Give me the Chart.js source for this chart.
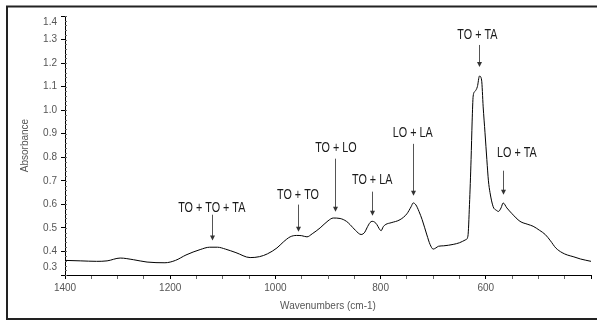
<!DOCTYPE html>
<html>
<head>
<meta charset="utf-8">
<script src="https://cdn.jsdelivr.net/npm/chart.js@4"></script>
<style>
  body { margin: 0; background: #fff; }
  canvas { display: block; }
</style>
</head>
<body>
<canvas id="spectrum" width="597" height="320"></canvas>
<script>
// spectrum (wavenumber cm-1 -> absorbance)
var wavenumbers = [1400, 1370, 1340, 1320, 1295, 1270, 1244, 1210, 1190, 1170, 1143, 1125, 1110, 1095, 1075, 1048, 1030, 1015,
    997, 985, 972, 960, 950, 940, 930, 915, 900, 890, 877, 865, 858, 848, 837, 830, 826, 820, 816, 811, 807, 803, 799, 795,
    790, 780, 763, 750, 742, 738, 733, 727, 721, 712, 706, 700, 695, 690, 680, 662, 650, 638, 634, 631, 628, 626, 624, 620.5,
    616, 612, 608, 605, 601.5, 598, 595, 592, 586, 580, 576, 571, 567, 560, 550, 535, 520, 510, 498, 487, 477, 467, 455, 445,
    434, 420, 400];
var absorbance = [0.362, 0.36, 0.358, 0.36, 0.372, 0.365, 0.355, 0.352, 0.362, 0.385, 0.408, 0.418, 0.418, 0.41, 0.395, 0.374, 0.378, 0.39,
    0.415, 0.44, 0.462, 0.468, 0.467, 0.462, 0.475, 0.50, 0.53, 0.542, 0.54, 0.528, 0.514, 0.49, 0.472, 0.482, 0.50, 0.523, 0.528, 0.524, 0.514, 0.498, 0.488, 0.505,
    0.515, 0.522, 0.535, 0.56, 0.59, 0.606, 0.598, 0.57, 0.535, 0.47, 0.43, 0.41, 0.415, 0.422, 0.424, 0.43, 0.437, 0.45, 0.465, 0.6, 0.79, 0.95, 1.06, 1.08,
    1.10, 1.145, 1.128, 1.014, 0.904, 0.79, 0.70, 0.65, 0.59, 0.575, 0.57, 0.585, 0.606, 0.585, 0.56, 0.528, 0.515, 0.507, 0.49, 0.472, 0.445, 0.415, 0.395, 0.385,
    0.378, 0.368, 0.358];

// peak assignments
var peakLabels = ['TO + TO + TA', 'TO + TO', 'TO + LO', 'TO + LA', 'LO + LA', 'TO + TA', 'LO + TA'];
var peakWavenumbers = [1120, 957, 887, 816, 738, 612, 567];

// where the labels and arrows sit, in data units
var labelPlace = [
    {textWn: 1121, textY: 0.586, topY: 0.556, tipY: 0.446},
    {textWn: 957, textY: 0.641, topY: 0.599, tipY: 0.484},
    {textWn: 885, textY: 0.840, topY: 0.794, tipY: 0.569},
    {textWn: 816, textY: 0.705, topY: 0.654, tipY: 0.552},
    {textWn: 739, textY: 0.904, topY: 0.857, tipY: 0.637},
    {textWn: 616, textY: 1.319, topY: 1.277, tipY: 1.183},
    {textWn: 541, textY: 0.819, topY: 0.743, tipY: 0.641}
];

var points = wavenumbers.map(function (w, i) { return {x: w, y: absorbance[i]}; });
var tickFont = '10px "Liberation Sans", Arial, sans-serif';

var extras = {
    id: 'extras',
    afterDraw: function (chart) {
        var ctx = chart.ctx, xs = chart.scales.x, ys = chart.scales.y, area = chart.chartArea;
        ctx.save();

        // frame round the figure
        ctx.strokeStyle = '#222';
        ctx.lineWidth = 2;
        ctx.beginPath();
        ctx.moveTo(600, 6.5); ctx.lineTo(7, 6.5); ctx.lineTo(7, 319); ctx.lineTo(600, 319);
        ctx.stroke();

        // minor ticks on the absorbance axis
        ctx.strokeStyle = '#666';
        ctx.lineWidth = 1;
        for (var v = 30; v <= 140; v += 2) {
            var py = Math.round(ys.getPixelForValue(v / 100)) + 0.5;
            ctx.beginPath();
            ctx.moveTo(area.left, py); ctx.lineTo(area.left + 2, py);
            ctx.stroke();
        }

        ctx.fillStyle = '#555';
        ctx.font = tickFont;
        // end labels of the absorbance axis sit nudged inwards
        ctx.textAlign = 'right';
        ctx.textBaseline = 'middle';
        ctx.fillText('1.4', area.left - 8, area.top + 6);
        ctx.fillText('0.3', area.bottom > 0 ? area.left - 8 : 0, area.bottom - 8);

        // axis titles
        ctx.textAlign = 'center';
        ctx.fillText('Wavenumbers (cm-1)', (area.left + area.right) / 2, 306);
        ctx.save();
        ctx.translate(25, (area.top + area.bottom) / 2);
        ctx.rotate(-Math.PI / 2);
        ctx.fillText('Absorbance', 0, 0);
        ctx.restore();

        // peak labels with arrows
        peakLabels.forEach(function (label, i) {
            var p = labelPlace[i];
            var ax = Math.round(xs.getPixelForValue(peakWavenumbers[i])) + 0.5;
            var top = ys.getPixelForValue(p.topY), tip = ys.getPixelForValue(p.tipY);
            ctx.strokeStyle = '#555';
            ctx.beginPath();
            ctx.moveTo(ax, top); ctx.lineTo(ax, tip - 4);
            ctx.stroke();
            ctx.fillStyle = '#333';
            ctx.beginPath();
            ctx.moveTo(ax - 2.5, tip - 5); ctx.lineTo(ax + 2.5, tip - 5); ctx.lineTo(ax, tip);
            ctx.closePath();
            ctx.fill();

            ctx.save();
            ctx.translate(xs.getPixelForValue(p.textWn), ys.getPixelForValue(p.textY));
            ctx.scale(0.72, 1);
            ctx.fillStyle = '#1a1a1a';
            ctx.font = '15px "Liberation Sans", Arial, sans-serif';
            ctx.textAlign = 'center';
            ctx.textBaseline = 'middle';
            ctx.fillText(label, 0, 0);
            ctx.restore();
        });
        ctx.restore();
    }
};

new Chart(document.getElementById('spectrum'), {
    type: 'line',
    data: {
        datasets: [{
            data: points,
            borderColor: '#000',
            borderWidth: 1,
            pointRadius: 0,
            cubicInterpolationMode: 'monotone',
            fill: false
        }]
    },
    options: {
        responsive: false,
        animation: false,
        layout: {padding: {top: 16, right: 6, left: 0, bottom: 0}},
        plugins: {legend: {display: false}, tooltip: {enabled: false}},
        scales: {
            x: {
                type: 'linear',
                reverse: true,
                min: 400,
                max: 1400,
                afterFit: function (s) { s.height = 45; },
                border: {display: true, color: '#000', width: 1},
                grid: {drawOnChartArea: false, drawTicks: true, tickLength: 4,
                    color: function (c) { return c.tick && c.tick.value % 200 === 0 ? '#000' : '#666'; }},
                ticks: {
                    stepSize: 50,
                    autoSkip: false,
                    maxRotation: 0,
                    padding: 3,
                    color: '#555',
                    font: {family: '"Liberation Sans", Arial, sans-serif', size: 10},
                    callback: function (v) { return (v % 200 === 0 && v >= 600) ? String(v) : ''; }
                }
            },
            y: {
                min: 0.3,
                max: 1.4,
                afterFit: function (s) { s.width = 65; },
                border: {display: true, color: '#000', width: 1},
                grid: {drawOnChartArea: false, drawTicks: true, tickLength: 4, color: '#000'},
                ticks: {
                    stepSize: 0.1,
                    padding: 4,
                    color: '#555',
                    font: {family: '"Liberation Sans", Arial, sans-serif', size: 10},
                    callback: function (v) {
                        var s = v.toFixed(1);
                        return (s === '0.3' || s === '1.4') ? '' : s;
                    }
                }
            }
        }
    },
    plugins: [extras]
});
</script>
</body>
</html>
